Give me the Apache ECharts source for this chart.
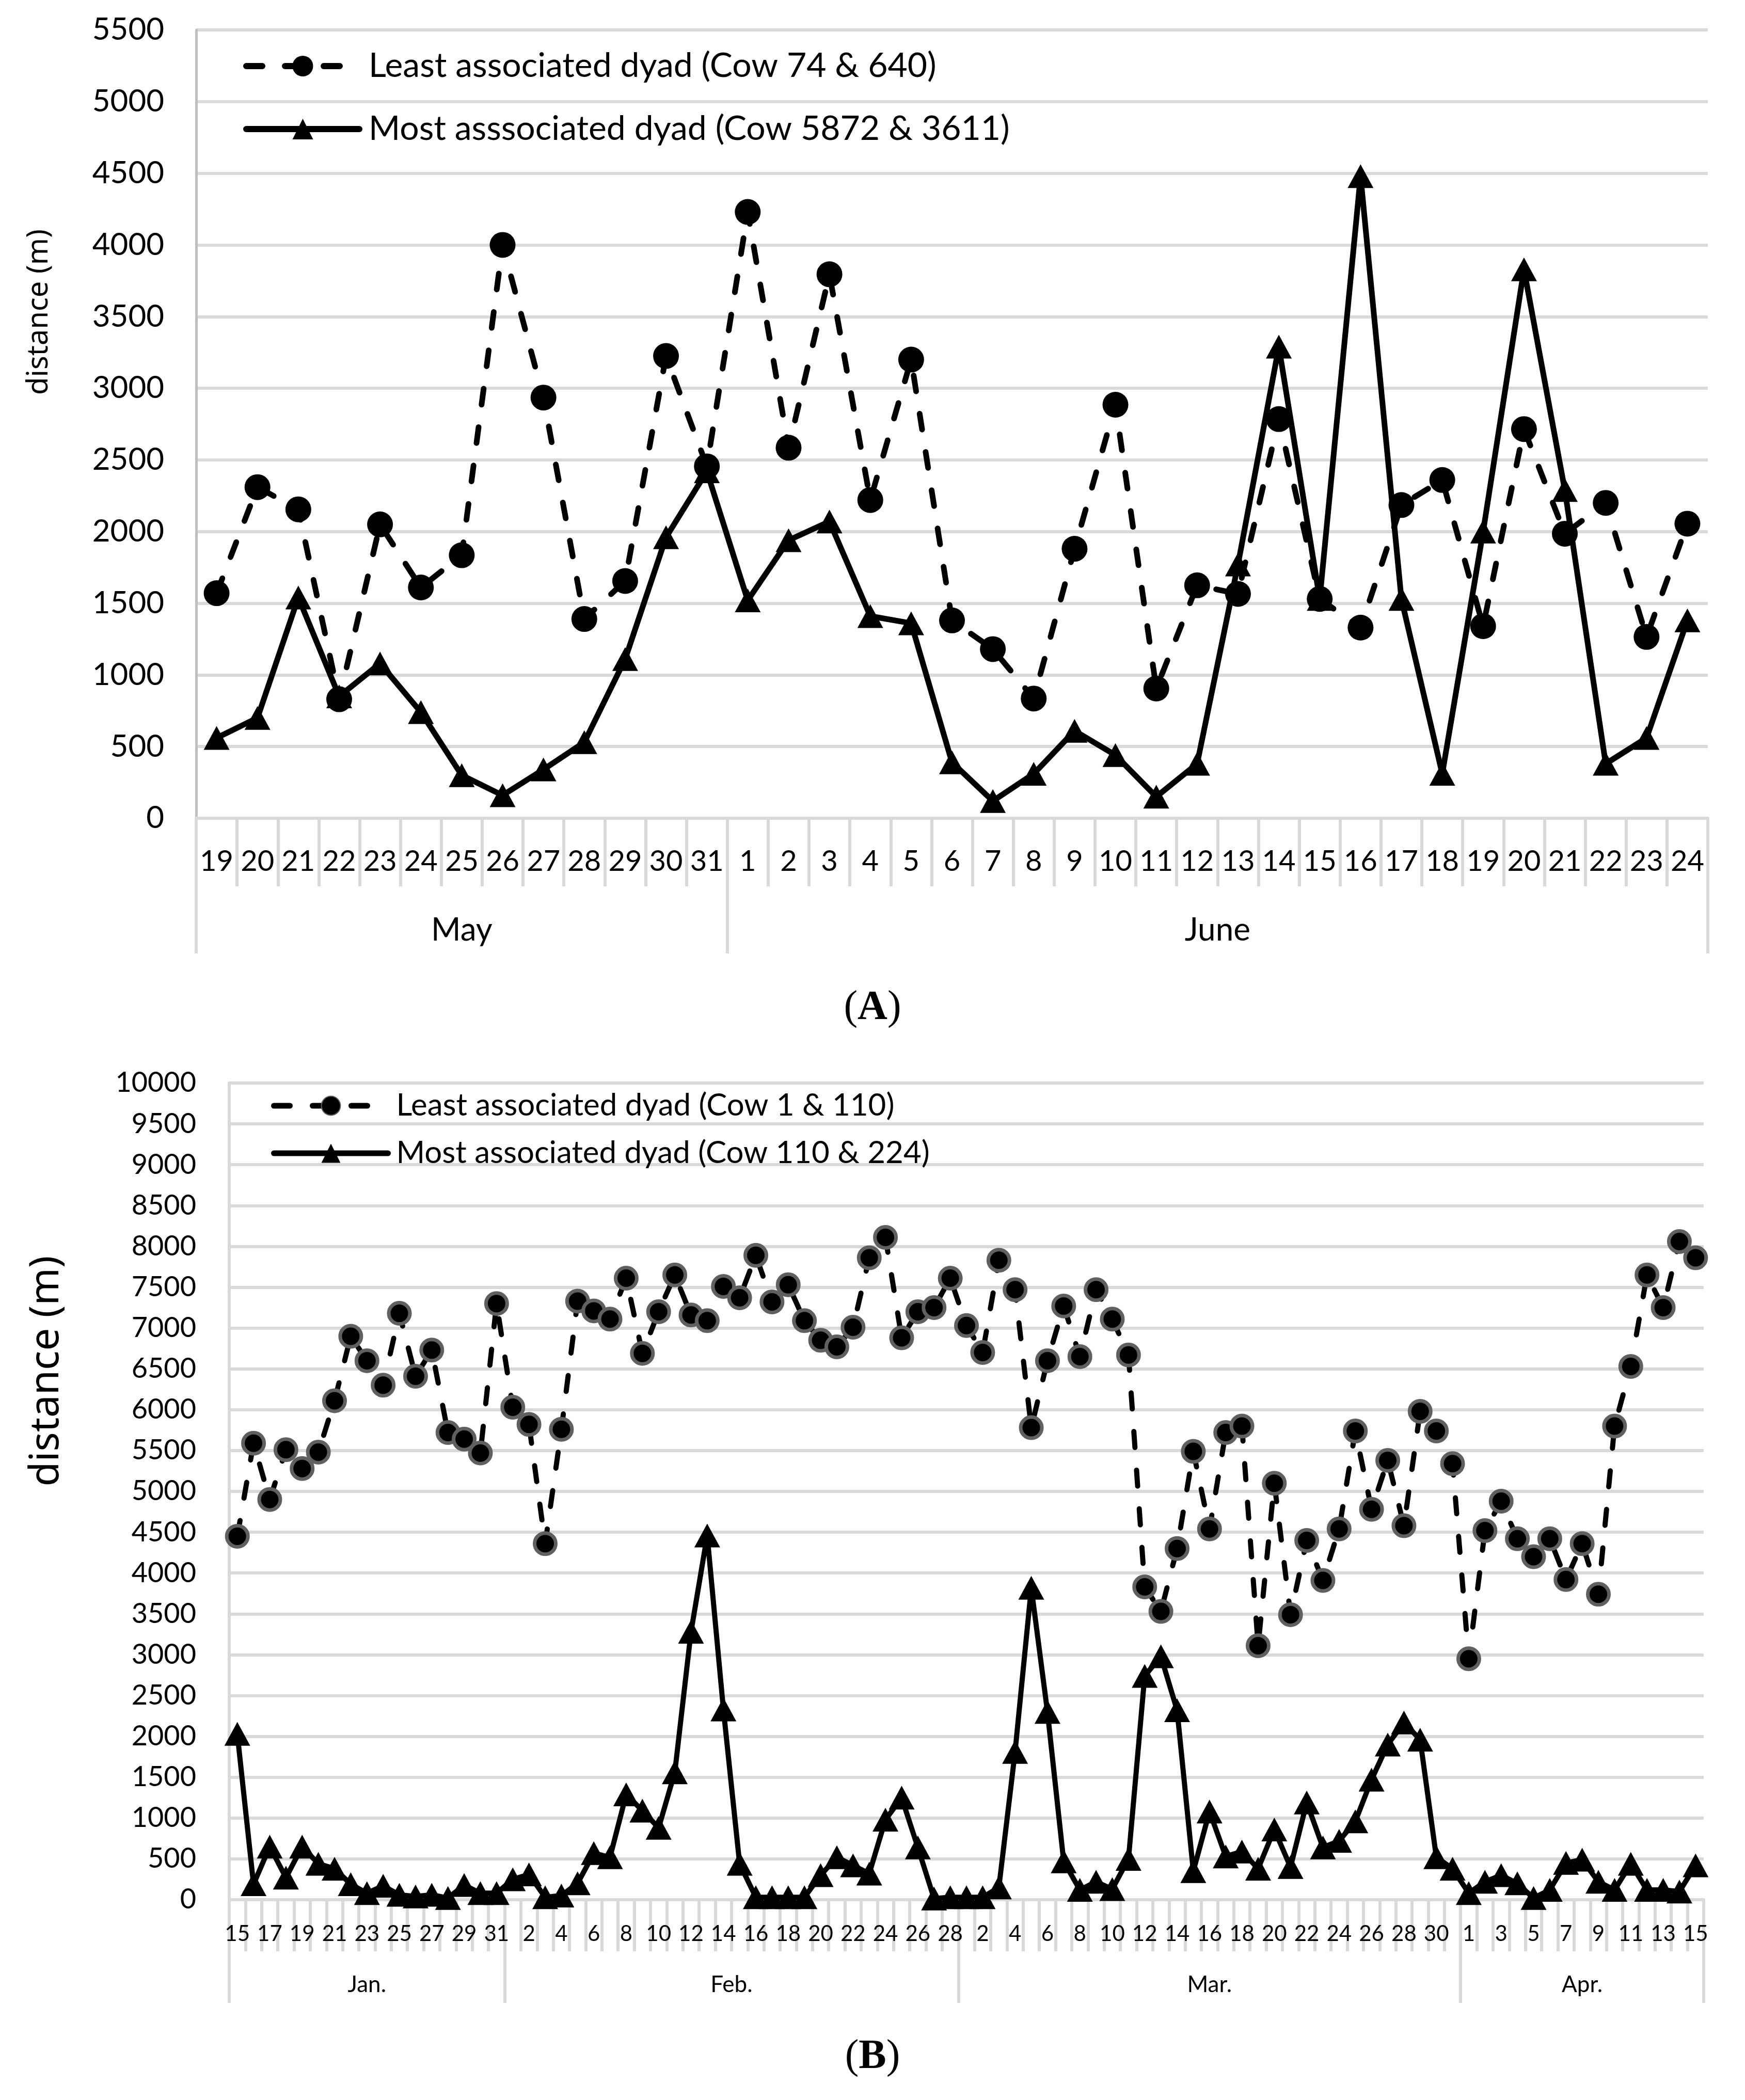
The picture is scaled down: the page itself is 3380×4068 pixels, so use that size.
<!DOCTYPE html>
<html>
<head>
<meta charset="utf-8">
<script src="https://cdn.jsdelivr.net/npm/echarts@6/dist/echarts.min.js"></script>
<style>
html,body{margin:0;padding:0;background:#ffffff;}
#chart{width:3380px;height:4068px;}
</style>
</head>
<body>
<div id="chart"></div>
<script>
// ---------- Panel A data ----------
const daysMayA = ['19','20','21','22','23','24','25','26','27','28','29','30','31'];
const daysJuneA = ['1','2','3','4','5','6','7','8','9','10','11','12','13','14','15','16','17','18','19','20','21','22','23','24'];
const monthNamesA = ['May', 'June'];
const leastNameA = 'Least associated dyad (Cow 74 & 640)';
const mostNameA = 'Most asssociated dyad (Cow 5872 & 3611)';
const leastA = [1570, 2310, 2155, 830, 2050, 1610, 1835, 4000, 2935, 1390, 1655, 3225, 2455,
                4230, 2585, 3795, 2220, 3200, 1380, 1180, 835, 1880, 2885, 905, 1625, 1565, 2785, 1530, 1330, 2185, 2360, 1340, 2715, 1985, 2200, 1265, 2055];
const mostA = [560, 700, 1540, 850, 1080, 740, 300, 160, 340, 530, 1110, 1960, 2420,
               1520, 1940, 2070, 1410, 1360, 390, 120, 310, 610, 440, 150, 380, 1770, 3290, 1530, 4480, 1530, 310, 2000, 3830, 2290, 380, 560, 1380];

// ---------- Panel B data ----------
const daysJanB = ['15','16','17','18','19','20','21','22','23','24','25','26','27','28','29','30','31'];
const daysFebB = ['1','2','3','4','5','6','7','8','9','10','11','12','13','14','15','16','17','18','19','20','21','22','23','24','25','26','27','28'];
const daysMarB = ['1','2','3','4','5','6','7','8','9','10','11','12','13','14','15','16','17','18','19','20','21','22','23','24','25','26','27','28','29','30','31'];
const daysAprB = ['1','2','3','4','5','6','7','8','9','10','11','12','13','14','15'];
const monthNamesB = ['Jan.', 'Feb.', 'Mar.', 'Apr.'];
const leastNameB = 'Least associated dyad (Cow 1 & 110)';
const mostNameB = 'Most associated dyad (Cow 110 & 224)';
const leastB = [
  4450, 5590, 4900, 5510, 5280, 5480, 6110, 6900, 6600, 6300, 7180, 6410, 6730, 5720, 5640, 5470, 7300,
  6030, 5820, 4360, 5760, 7330, 7210, 7110, 7610, 6690, 7200, 7650, 7160, 7090, 7510, 7370, 7890, 7320, 7530, 7090, 6850, 6770, 7010, 7860, 8110, 6880, 7200, 7250, 7610,
  7030, 6700, 7830, 7470, 5780, 6600, 7270, 6650, 7470, 7110, 6670, 3830, 3530, 4300, 5490, 4540, 5720, 5800, 3110, 5100, 3490, 4400, 3910, 4540, 5740, 4780, 5380, 4580, 5980, 5740, 5340,
  2950, 4520, 4880, 4420, 4200, 4420, 3920, 4360, 3740, 5800, 6530, 7650, 7250, 8060, 7860];
const mostB = [
  2030, 190, 650, 270, 650, 440, 380, 190, 80, 170, 60, 40, 60, 20, 180, 80, 80,
  250, 310, 30, 50, 200, 570, 520, 1290, 1090, 880, 1560, 3280, 4460, 2330, 440, 30, 30, 30, 30, 300, 520, 420, 320, 980, 1250, 640, 15, 30,
  30, 30, 150, 1810, 3820, 2300, 470, 120, 220, 130, 500, 2740, 2980, 2320, 350, 1080, 530, 590, 380, 860, 400, 1190, 640, 720, 960, 1470, 1900, 2170, 1960, 520, 380,
  80, 220, 300, 200, 20, 120, 450, 490, 220, 120, 440, 120, 120, 100, 420];

// ---------- helpers ----------
const monthGroupsA = [daysMayA, daysJuneA];
const monthGroupsB = [daysJanB, daysFebB, daysMarB, daysAprB];
const catsA = [].concat(...monthGroupsA);
const catsB = [].concat(...monthGroupsB);
function starts(groups){ const s=[]; let c=0; groups.forEach(g=>{s.push(c); c+=g.length;}); return s; }
function centers(groups){ const s=[]; let c=0; groups.forEach(g=>{s.push(c+g.length/2); c+=g.length;}); return s; }
const startsA = starts(monthGroupsA), startsB = starts(monthGroupsB);
const centersA = centers(monthGroupsA), centersB = centers(monthGroupsB);

const GRID = '#d9d9d9';
const FONT = 'Lato';
const NAMEFONT = 'Noto Sans';
const DASH = [31, 44];

function monthFormatter(cs, names){
  return function(v){
    for (let i=0;i<cs.length;i++){ if (Math.abs(v-cs[i])<1e-6) return names[i]; }
    return '';
  };
}
function plainNumber(v){ return String(v); }

function xAxesFor(gridIndex, cats, st, cs, names, cfg){
  return [
    { // days
      type:'category', gridIndex, position:'bottom', data:cats, boundaryGap:true,
      axisLine:{show:true, onZero:false, lineStyle:{color:GRID, width:6}},
      axisTick:{show:true, interval:0, length:cfg.dayTick, lineStyle:{color:GRID, width:6}},
      axisLabel:{interval:cfg.labelInterval, margin:cfg.dayMargin, color:'#000', fontSize:cfg.dayFont, fontFamily:FONT},
      splitLine:{show:false}
    },
    { // month separators
      type:'category', gridIndex, position:'bottom', data:cats, boundaryGap:true,
      axisLine:{show:false, onZero:false},
      axisTick:{show:true, interval:function(i){return st.indexOf(i)>=0;}, length:cfg.monthTick, lineStyle:{color:GRID, width:6}},
      axisLabel:{show:false}, splitLine:{show:false}
    },
    { // month names
      type:'value', gridIndex, position:'bottom', min:0, max:cats.length, interval:0.5,
      axisLine:{show:false, onZero:false}, axisTick:{show:false}, splitLine:{show:false},
      axisLabel:{show:true, margin:cfg.monthMargin, color:'#000', fontSize:cfg.monthFont, fontFamily:FONT,
                 formatter:monthFormatter(cs, names), showMinLabel:true, showMaxLabel:true}
    }
  ];
}

const xAxes = [].concat(
  xAxesFor(0, catsA, startsA, centersA, monthNamesA, {dayTick:132, monthTick:262, labelInterval:0, dayMargin:56, dayFont:56, monthMargin:186, monthFont:62}),
  xAxesFor(1, catsB, startsB, centersB, monthNamesB, {dayTick:100, monthTick:200, labelInterval:1, dayMargin:45, dayFont:42, monthMargin:143, monthFont:44})
);

const titleStyle = {fontFamily:'Liberation Serif', fontSize:80, fontWeight:'normal', color:'#000',
                    rich:{b:{fontFamily:'Liberation Serif', fontSize:80, fontWeight:'bold', color:'#000'}}};

const option = {
  animation:false,
  backgroundColor:'#ffffff',
  textStyle:{fontFamily:FONT, color:'#000'},
  title:[
    {text:'({b|A})', left:'center', top:1908, textStyle:titleStyle},
    {text:'({b|B})', left:'center', top:3940, textStyle:titleStyle}
  ],
  grid:[
    {left:380, right:72, top:58, bottom:2483, containLabel:false},
    {left:444, right:80, top:2098, bottom:388, containLabel:false}
  ],
  legend:[
    {orient:'vertical', left:466, top:90, itemWidth:219, itemHeight:50, itemGap:56,
     data:[leastNameA, mostNameA],
     lineStyle:{width:12, cap:'round'},
     textStyle:{fontFamily:FONT, fontSize:66, color:'#000', padding:[0,0,0,13]}},
    {orient:'vertical', left:520, top:2107, itemWidth:221, itemHeight:46, itemGap:32,
     data:[leastNameB, mostNameB],
     lineStyle:{width:11, cap:'round'},
     textStyle:{fontFamily:FONT, fontSize:60, color:'#000', padding:[0,0,0,11]}}
  ],
  xAxis:xAxes,
  yAxis:[
    {type:'value', gridIndex:0, min:0, max:5500, interval:500,
     name:'distance (m)', nameLocation:'middle', nameGap:276, nameRotate:90,
     nameTextStyle:{fontFamily:NAMEFONT, fontSize:56, color:'#000', padding:[0,0,0,434]},
     axisLine:{show:true, onZero:false, lineStyle:{color:'#bfbfbf', width:5}}, axisTick:{show:false},
     axisLabel:{margin:62, color:'#000', fontSize:60, fontFamily:FONT, formatter:plainNumber},
     splitLine:{show:true, lineStyle:{color:GRID, width:6}}},
    {type:'value', gridIndex:1, min:0, max:10000, interval:500,
     name:'distance (m)', nameLocation:'middle', nameGap:314, nameRotate:90,
     nameTextStyle:{fontFamily:NAMEFONT, fontSize:78, color:'#000', padding:[0,0,0,466]},
     axisLine:{show:true, onZero:false, lineStyle:{color:GRID, width:6}}, axisTick:{show:false},
     axisLabel:{margin:64, color:'#000', fontSize:54, fontFamily:FONT, formatter:plainNumber},
     splitLine:{show:true, lineStyle:{color:GRID, width:6}}}
  ],
  series:[
    {name:leastNameA, type:'line', xAxisIndex:0, yAxisIndex:0, data:leastA,
     symbol:'circle', symbolSize:50, showAllSymbol:true, color:'#000',
     itemStyle:{color:'#000'},
     lineStyle:{color:'#000', width:11, type:DASH, cap:'round'}},
    {name:mostNameA, type:'line', xAxisIndex:0, yAxisIndex:0, data:mostA,
     symbol:'triangle', symbolSize:[50,46], showAllSymbol:true, color:'#000',
     itemStyle:{color:'#000'},
     lineStyle:{color:'#000', width:11, type:'solid'}},
    {name:leastNameB, type:'line', xAxisIndex:3, yAxisIndex:1, data:leastB,
     symbol:'circle', symbolSize:41, showAllSymbol:true, color:'#000',
     itemStyle:{color:'#000', borderColor:'#606060', borderWidth:7},
     lineStyle:{color:'#000', width:10, type:DASH, cap:'round'}},
    {name:mostNameB, type:'line', xAxisIndex:3, yAxisIndex:1, data:mostB,
     symbol:'triangle', symbolSize:[50,46], showAllSymbol:true, color:'#000',
     itemStyle:{color:'#000'},
     lineStyle:{color:'#000', width:10, type:'solid'}}
  ]
};

const chart = echarts.init(document.getElementById('chart'), null, {renderer:'canvas'});
chart.setOption(option);
</script>
</body>
</html>
